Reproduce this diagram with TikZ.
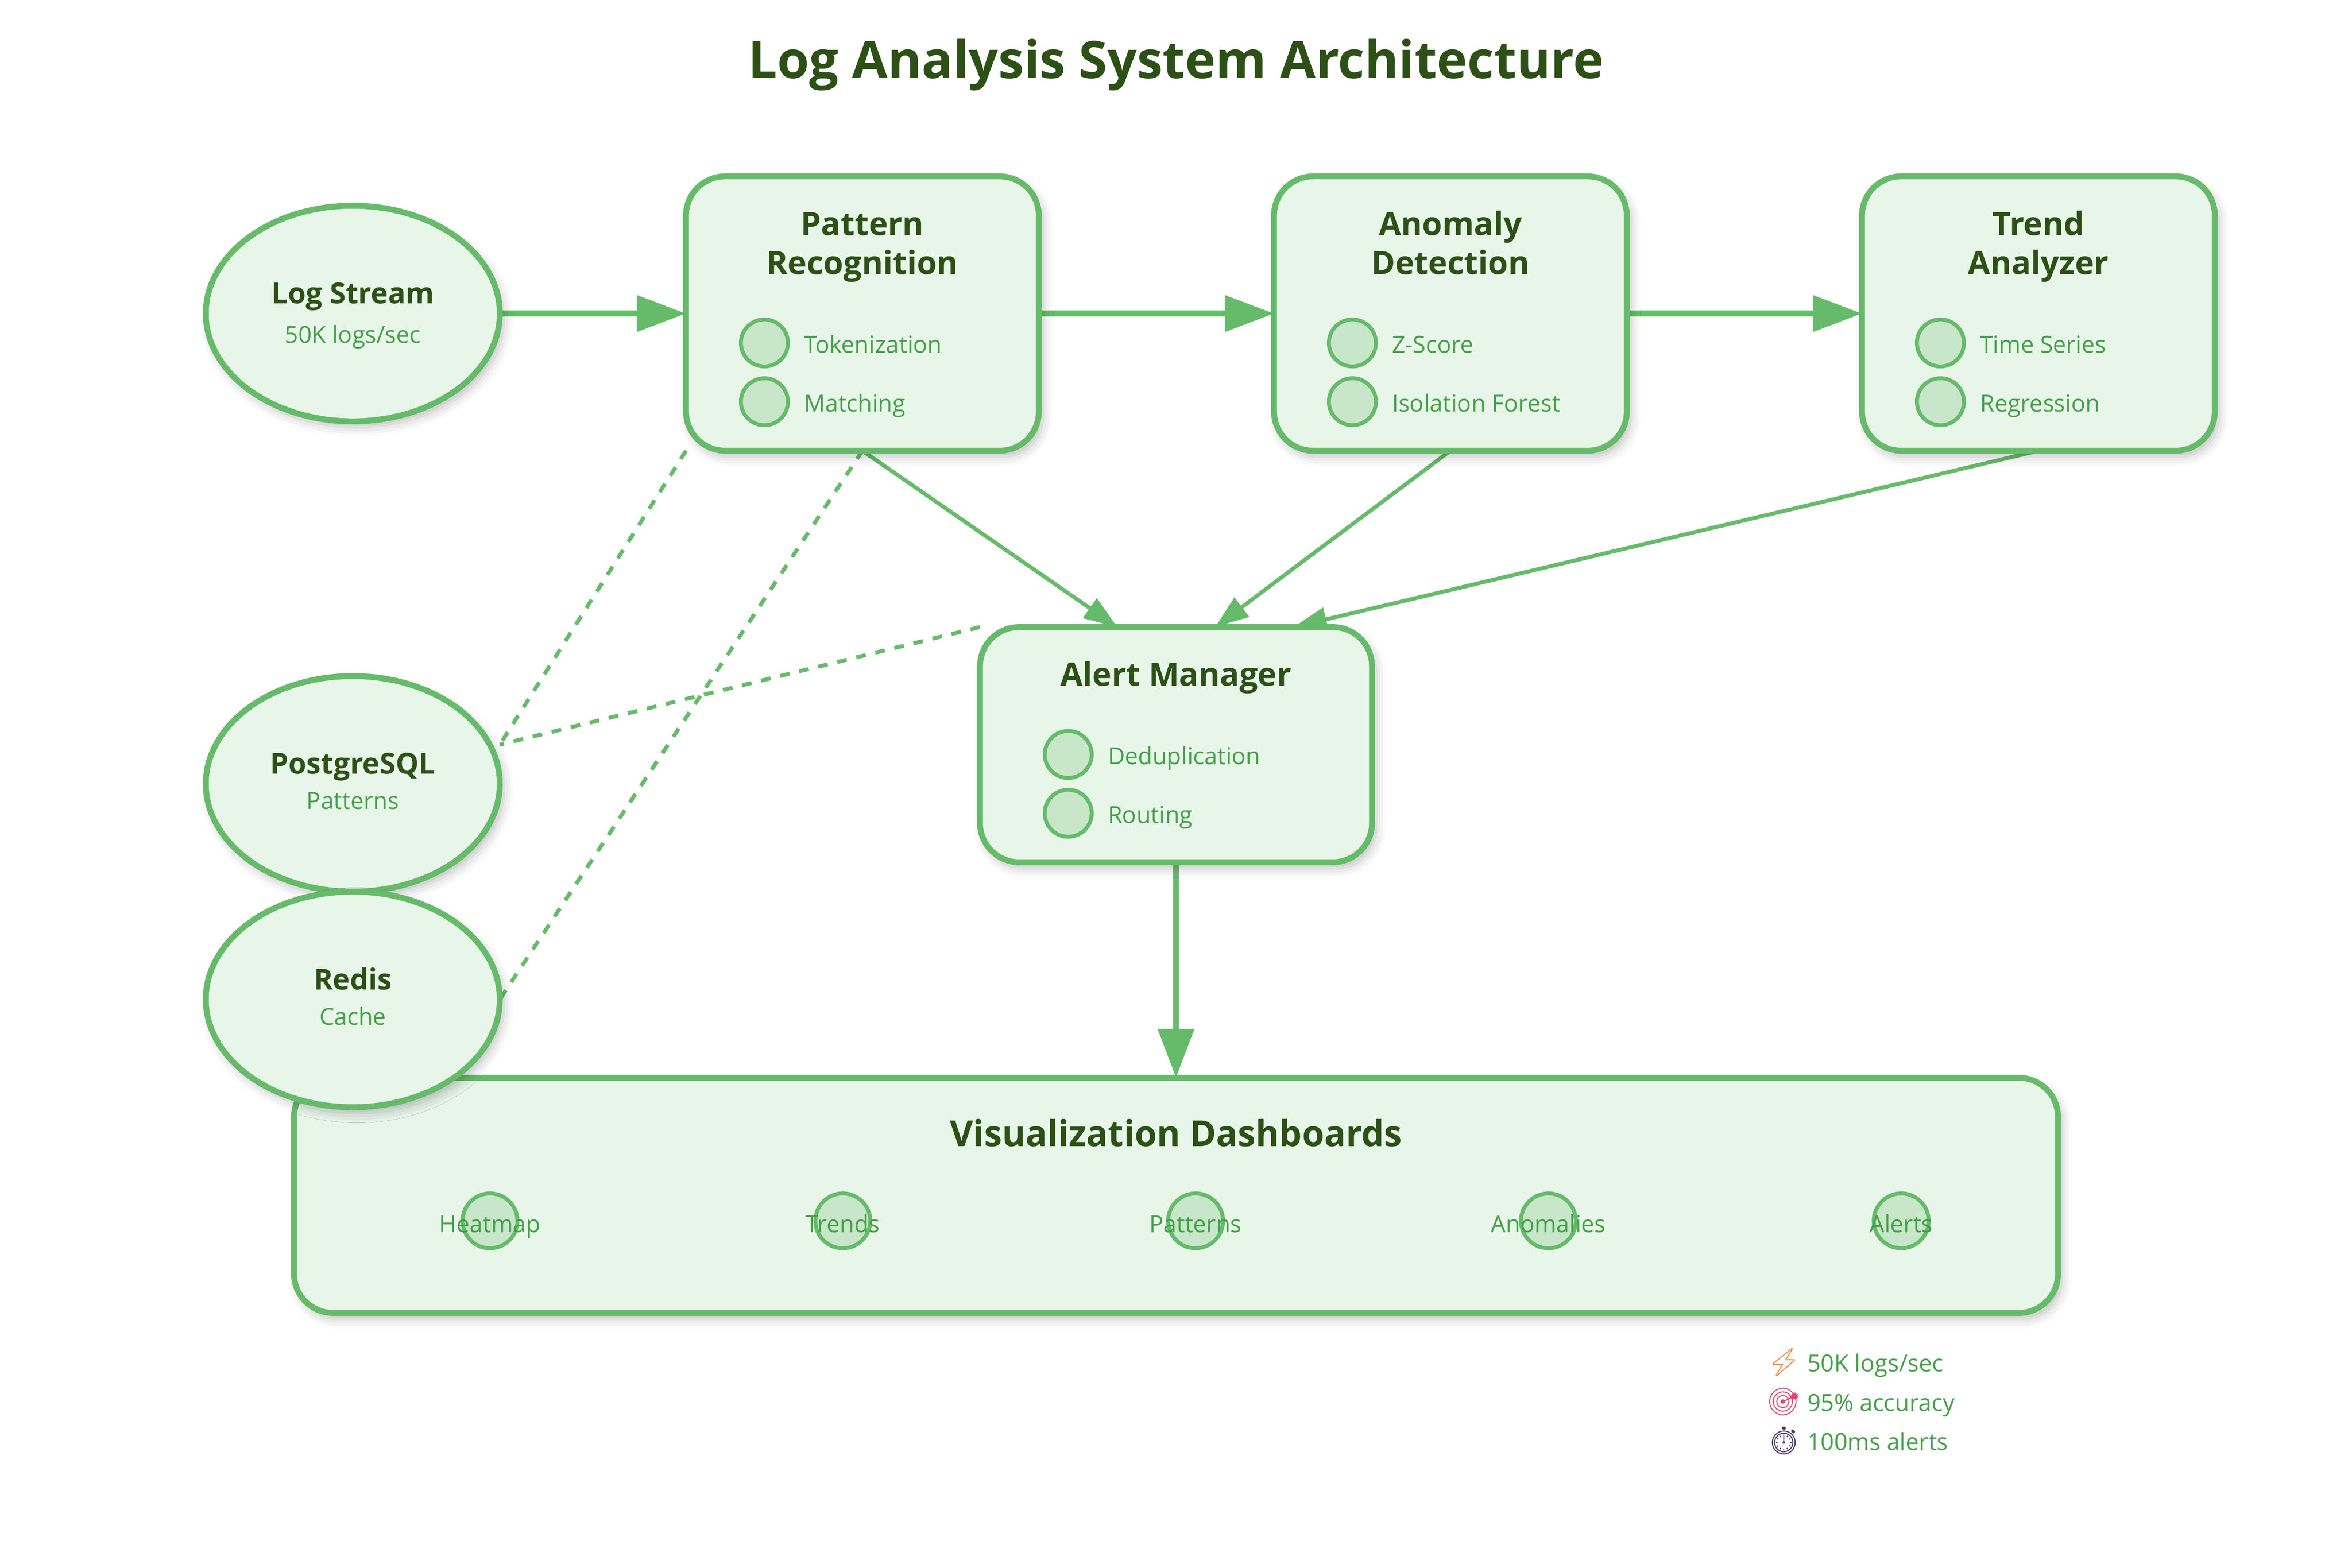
\documentclass[tikz,border=0pt]{standalone}
\usepackage{fontspec}
\setmainfont{Open Sans}
\newfontfamily\emj{Noto Emoji}
\usetikzlibrary{shapes.geometric,arrows.meta,shadows.blur}
\definecolor{ln}{HTML}{66BB6A}
\definecolor{bx}{HTML}{E8F5E9}
\definecolor{dt}{HTML}{C8E6C9}
\definecolor{dk}{HTML}{2D5016}
\definecolor{md}{HTML}{43A047}
\definecolor{bolt}{HTML}{F7863A}
\definecolor{aim}{HTML}{E8436E}
\definecolor{clk}{HTML}{4B3766}
\pgfdeclarelayer{back}
\pgfsetlayers{back,main}
\tikzset{
  shd/.style={blur shadow={shadow xshift=2pt,shadow yshift=-3pt,shadow blur radius=5pt,shadow opacity=25}},
  box/.style={draw=ln,fill=bx,line width=3pt,rounded corners=20pt,minimum width=180pt,minimum height=140pt,inner sep=0pt,outer sep=0pt,shd},
  store/.style={ellipse,draw=ln,fill=bx,line width=3pt,minimum width=150pt,minimum height=110pt,inner sep=0pt,outer sep=0pt,shd},
  dot/.style={circle,draw=ln,fill=dt,line width=2pt,minimum size=24pt,inner sep=0pt},
  hd/.style={text=dk,font=\bfseries\fontsize{16.5}{20}\selectfont,anchor=base,inner sep=0pt},
  shd-t/.style={hd,font=\bfseries\fontsize{14.8}{18}\selectfont},
  sub/.style={text=md,font=\fontsize{12}{14}\selectfont,anchor=base,inner sep=0pt},
  item/.style={sub,anchor=base west},
  flow/.style={draw=ln,line width=3pt,-{Triangle[length=25pt,width=18pt]}},
  feed/.style={draw=ln,line width=2pt,-{Triangle[length=17pt,width=12pt]}},
  link/.style={draw=ln,line width=2pt,dash pattern=on 5pt off 5pt},
}
\newcommand{\ico}[2]{{\emj\fontsize{14}{14}\selectfont\textcolor{#1}{#2}}}

\begin{document}
\begin{tikzpicture}[x=1pt,y=-1pt]
  \useasboundingbox (0,0) rectangle (1200,800);
  \node[hd,font=\bfseries\fontsize{26.4}{30}\selectfont] (title) at (600,40) {Log Analysis System Architecture};

  % input stream
  \node[store] (log) at (180,160) {};
  \node[shd-t] (log-t) at (180,155) {Log Stream};
  \node[sub] (log-s) at (180,175) {50K logs/sec};

  % analysis stages
  \node[box] (pat) at (440,160) {};
  \node[hd] (pat-t1) at (440,120) {Pattern};
  \node[hd] (pat-t2) at (440,140) {Recognition};
  \node[dot] (pat-d1) at (390,175) {};
  \node[item] (pat-i1) at (410,180) {Tokenization};
  \node[dot] (pat-d2) at (390,205) {};
  \node[item] (pat-i2) at (410,210) {Matching};

  \node[box] (ano) at (740,160) {};
  \node[hd] (ano-t1) at (740,120) {Anomaly};
  \node[hd] (ano-t2) at (740,140) {Detection};
  \node[dot] (ano-d1) at (690,175) {};
  \node[item] (ano-i1) at (710,180) {Z-Score};
  \node[dot] (ano-d2) at (690,205) {};
  \node[item] (ano-i2) at (710,210) {Isolation Forest};

  \node[box] (trd) at (1040,160) {};
  \node[hd] (trd-t1) at (1040,120) {Trend};
  \node[hd] (trd-t2) at (1040,140) {Analyzer};
  \node[dot] (trd-d1) at (990,175) {};
  \node[item] (trd-i1) at (1010,180) {Time Series};
  \node[dot] (trd-d2) at (990,205) {};
  \node[item] (trd-i2) at (1010,210) {Regression};

  % alerts
  \node[box,minimum width=200pt,minimum height=120pt] (alert) at (600,380) {};
  \node[hd] (alert-t) at (600,350) {Alert Manager};
  \node[dot] (alert-d1) at (545,385) {};
  \node[item] (alert-i1) at (565,390) {Deduplication};
  \node[dot] (alert-d2) at (545,415) {};
  \node[item] (alert-i2) at (565,420) {Routing};

  % dashboards
  \node[box,minimum width=900pt,minimum height=120pt] (dash) at (600,610) {};
  \node[hd,font=\bfseries\fontsize{18.3}{22}\selectfont] (dash-t) at (600,585) {Visualization Dashboards};
  \node[dot,minimum size=28pt] (dash-d1) at (250,623) {};
  \node[sub] (dash-i1) at (250,629) {Heatmap};
  \node[dot,minimum size=28pt] (dash-d2) at (430,623) {};
  \node[sub] (dash-i2) at (430,629) {Trends};
  \node[dot,minimum size=28pt] (dash-d3) at (610,623) {};
  \node[sub] (dash-i3) at (610,629) {Patterns};
  \node[dot,minimum size=28pt] (dash-d4) at (790,623) {};
  \node[sub] (dash-i4) at (790,629) {Anomalies};
  \node[dot,minimum size=28pt] (dash-d5) at (970,623) {};
  \node[sub] (dash-i5) at (970,629) {Alerts};

  % storage
  \node[store] (pg) at (180,400) {};
  \node[shd-t] (pg-t) at (180,395) {PostgreSQL};
  \node[sub] (pg-s) at (180,413) {Patterns};
  \node[store] (redis) at (180,510) {};
  \node[shd-t] (redis-t) at (180,505) {Redis};
  \node[sub] (redis-s) at (180,523) {Cache};

  % connectors under the boxes
  \begin{pgfonlayer}{back}
    \draw[flow] (log.east) -- (pat.west);
    \draw[flow] (pat.east) -- (ano.west);
    \draw[flow] (ano.east) -- (trd.west);
    \draw[feed] (pat.south) -- ([xshift=-30pt]alert.north);
    \draw[feed] (ano.south) -- ([xshift=20pt]alert.north);
    \draw[feed] (trd.south) -- ([xshift=60pt]alert.north);
    \draw[flow] (alert.south) -- (dash.north);
    \draw[link] (pat.south west) -- ([yshift=20pt]pg.east);
    \draw[link] (alert.north west) -- ([yshift=20pt]pg.east);
    \draw[link] (pat.south) -- (redis.east);
  \end{pgfonlayer}

  % legend
  \node[item] (lg1) at (901,700) {\ico{bolt}{⚡} 50K logs/sec};
  \node[item] (lg2) at (901,720) {\ico{aim}{🎯} 95\% accuracy};
  \node[item] (lg3) at (901,740) {\ico{clk}{⏱} 100ms alerts};
\end{tikzpicture}
\end{document}
